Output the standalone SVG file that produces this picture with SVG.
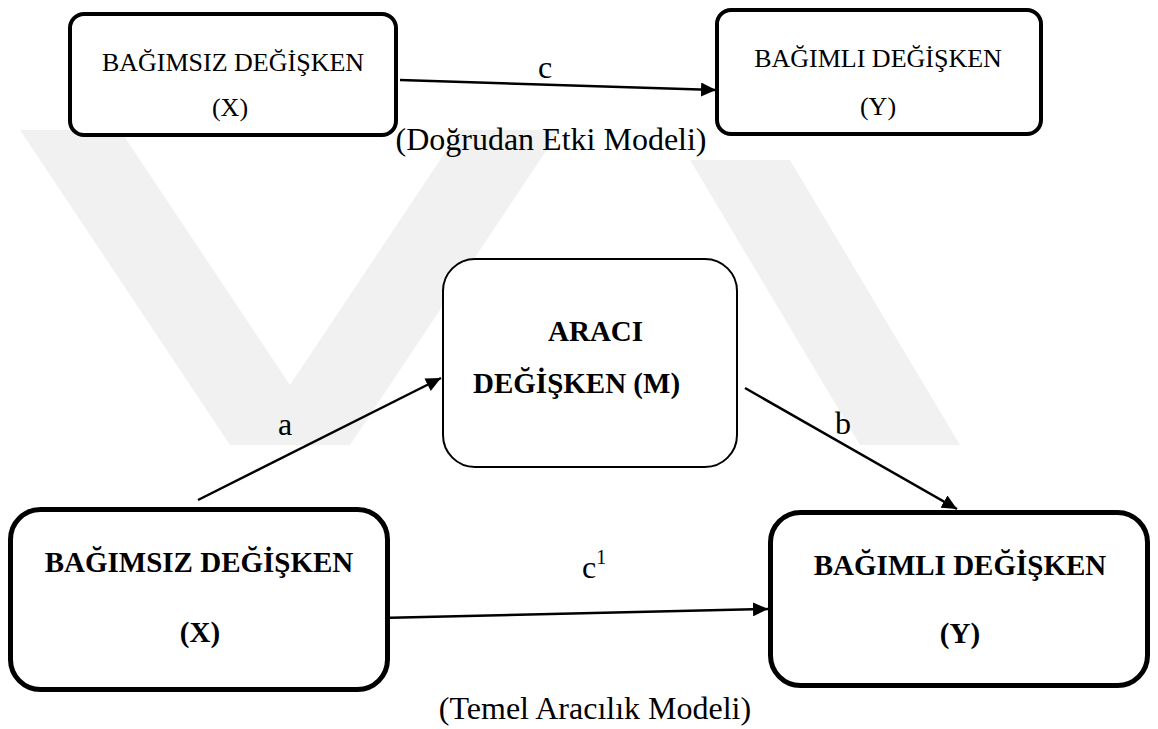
<svg xmlns="http://www.w3.org/2000/svg" width="1158" height="729" viewBox="0 0 1158 729">
  <style>
    .box { fill: #ffffff; stroke: #000000; }
    .thin { stroke-width: 2; }
    .mid { stroke-width: 4; }
    .heavy { stroke-width: 5; }
    .t { font-family: "Liberation Serif", "Times New Roman", serif; fill: #000000; text-anchor: middle; }
    .n26 { font-size: 26px; }
    .lbl { font-size: 32px; }
    .b29 { font-size: 29px; font-weight: bold; }
    .cap { font-size: 32px; }
    .edge { fill: none; stroke: #000000; stroke-width: 2.5; marker-end: url(#head); }
    .wm { fill: #f1f1f1; }
  </style>
  <defs>
    <marker id="head" markerUnits="userSpaceOnUse" markerWidth="16" markerHeight="14" refX="15" refY="7" orient="auto">
      <path d="M0,0 L15,7 L0,14 Z" fill="#000000"/>
    </marker>
  </defs>

  <rect width="1158" height="729" fill="#ffffff"/>

  <!-- faint background emblem -->
  <g id="emblem">
    <polygon class="wm" points="20,130 120,130 330,445 230,445"/>
    <polygon class="wm" points="250,445 350,445 560,130 460,130"/>
    <polygon class="wm" points="690,160 790,160 960,445 860,445"/>
  </g>

  <!-- connectors -->
  <g id="connectors">
    <path class="edge" d="M400,80 L716,90"/>
    <path class="edge" d="M198,500 L441,378"/>
    <path class="edge" d="M745,388 L957,509"/>
    <path class="edge" d="M380,618 L768,609"/>
    <text class="t lbl" x="545" y="78">c</text>
    <text class="t lbl" x="285" y="435">a</text>
    <text class="t lbl" x="843" y="434">b</text>
    <text class="t lbl" x="582" y="578" style="text-anchor:start">c<tspan font-size="20" dy="-14">1</tspan></text>
  </g>

  <!-- direct effect model -->
  <g id="x-direct">
    <rect class="box mid" x="70" y="14" width="326" height="121" rx="14"/>
    <text class="t n26" x="233" y="71">BAĞIMSIZ DEĞİŞKEN</text>
    <text class="t n26" x="230" y="116">(X)</text>
  </g>
  <g id="y-direct">
    <rect class="box mid" x="717" y="10" width="324" height="124" rx="14"/>
    <text class="t n26" x="878" y="67">BAĞIMLI DEĞİŞKEN</text>
    <text class="t n26" x="878" y="115">(Y)</text>
  </g>
  <text id="caption-direct" class="t cap" x="551" y="150">(Doğrudan Etki Modeli)</text>

  <!-- mediation model -->
  <g id="m-mediator">
    <rect class="box thin" x="443" y="259" width="294" height="208" rx="32"/>
    <text class="t b29" x="548" y="341" style="text-anchor:start">ARACI</text>
    <text class="t b29" x="473" y="393" style="text-anchor:start">DEĞİŞKEN (M)</text>
  </g>
  <g id="x-mediation">
    <rect class="box heavy" x="10.5" y="509.5" width="377" height="180" rx="30"/>
    <text class="t b29" x="199" y="572">BAĞIMSIZ DEĞİŞKEN</text>
    <text class="t b29" x="200" y="642">(X)</text>
  </g>
  <g id="y-mediation">
    <rect class="box heavy" x="770.5" y="512.5" width="377" height="173" rx="30"/>
    <text class="t b29" x="960" y="575">BAĞIMLI DEĞİŞKEN</text>
    <text class="t b29" x="960" y="643">(Y)</text>
  </g>
  <text id="caption-mediation" class="t cap" x="595" y="719">(Temel Aracılık Modeli)</text>
</svg>
